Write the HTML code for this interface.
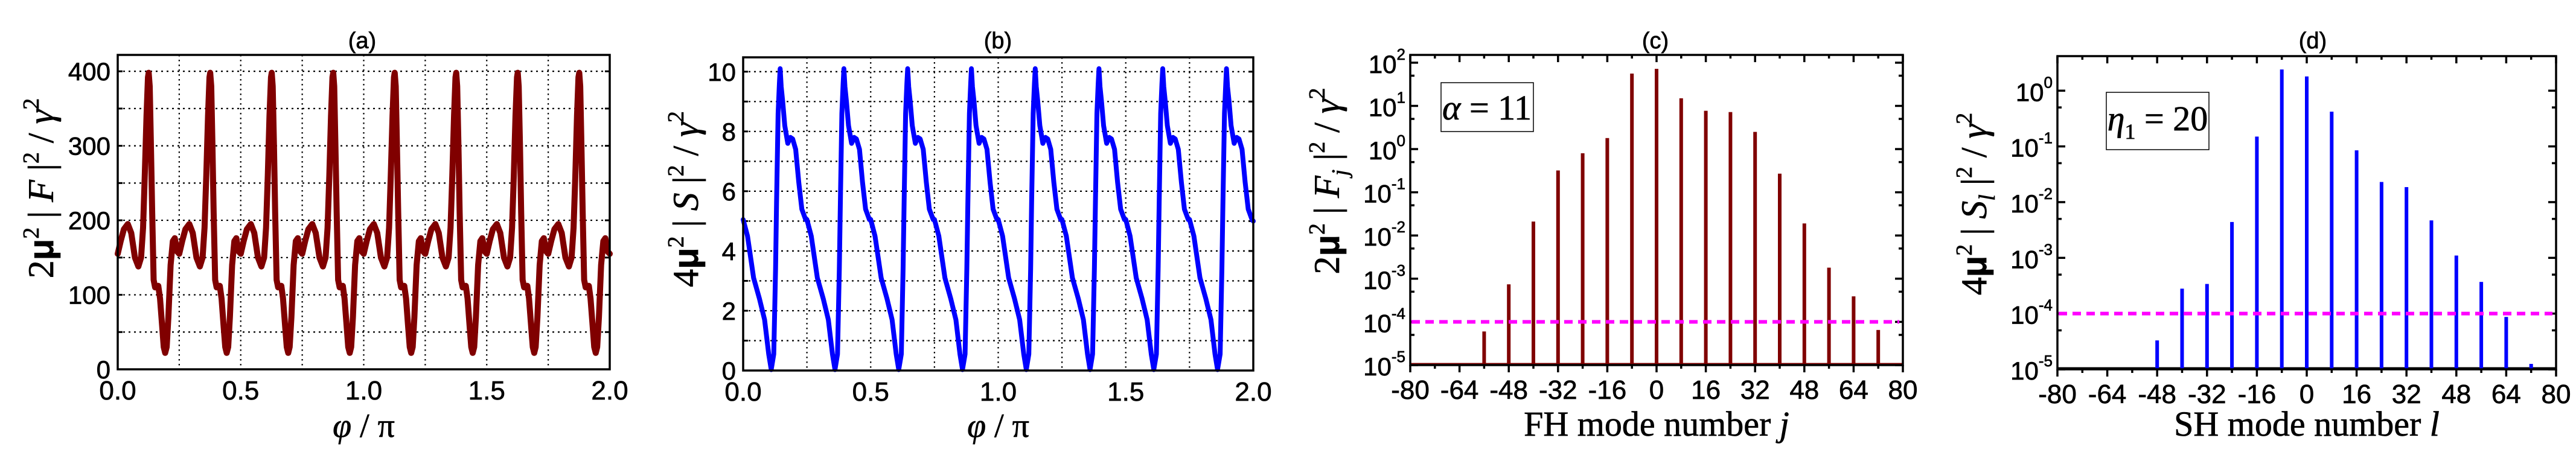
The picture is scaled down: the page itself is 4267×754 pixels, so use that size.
<!DOCTYPE html>
<html><head><meta charset="utf-8"><style>
html,body{margin:0;padding:0;background:#fff;}
svg{display:block;}
text{font-family:"Liberation Sans",Arial,sans-serif;stroke:#000;stroke-width:0.7;}
.serif{font-family:"Liberation Serif","Times New Roman",serif;}
</style></head><body>
<svg id="fig" xmlns="http://www.w3.org/2000/svg" width="4267" height="754" viewBox="0 0 4267 754">
<rect width="4267" height="754" fill="#fff"/>
<g id="pa"></g>
<g id="pb"></g>
<g id="pc"></g>
<g id="pd"></g>
</svg>
<script>
// ---- panel (a): one period (period = 0.25) of 2mu^2|F|^2/gamma^2 vs phi/pi
const periodA = 0.25;
const phiA = [0,0.012,0.025,0.041,0.055,0.07,0.084,0.095,0.103,0.11,0.117,0.123,0.126,0.13,0.135,0.14,0.146,0.152,0.165,0.172,0.18,0.187,0.193,0.199,0.206,0.215,0.224,0.232,0.242,0.25];
const valA = [155,172,188,195,183,150,138,150,190,260,340,392,398,380,300,210,120,110,112,95,60,30,22,30,70,140,172,176,158,155];
// ---- panel (b): one period of 4mu^2|S|^2/gamma^2
const periodB = 0.25;
const phiB = [0,0.017,0.041,0.064,0.084,0.1,0.11,0.12,0.127,0.131,0.137,0.142,0.145,0.149,0.155,0.163,0.175,0.185,0.194,0.206,0.218,0.23,0.245,0.25];
const valB = [5.05,4.5,3.1,2.4,1.7,0.55,0.03,0.55,3.4,5.6,8.6,9.6,10.1,9.5,9.0,8.2,7.6,7.8,7.75,7.4,6.3,5.4,5.05,5.0];
const xTicksAB = ["0.0","0.5","1.0","1.5","2.0"];
const yTicksA = ["0","100","200","300","400"];
const yTicksB = ["0","2","4","6","8","10"];
// ---- panel (c): FH mode spectrum
const modesC = [-56,-48,-40,-32,-24,-16,-8,0,8,16,24,32,40,48,56,64,72];
const valsC = [6e-5,7.4e-4,0.021,0.32,0.8,1.8,56,72,15,7.7,7.2,2.5,0.27,0.019,1.8e-3,3.9e-4,6.5e-5];
// ---- panel (d): SH mode spectrum
const modesD = [-48,-40,-32,-24,-16,-8,0,8,16,24,32,40,48,56,64,72];
const valsD = [3.3e-5,2.8e-4,3.4e-4,4.4e-3,0.15,2.4,1.8,0.42,0.085,0.023,0.0186,4.7e-3,1.1e-3,3.7e-4,8.7e-5,1.25e-5];
const modeTicks = ["-80","-64","-48","-32","-16","0","16","32","48","64","80"];
const expC = ["-5","-4","-3","-2","-1","0","1","2"];
const expD = ["-5","-4","-3","-2","-1","0"];
const thresholdC = 1e-4;
const thresholdD = 1e-4;

const NS="http://www.w3.org/2000/svg";
function mk(parent,tag,attrs,text){const e=document.createElementNS(NS,tag);for(const k in attrs)e.setAttribute(k,attrs[k]);if(text!==undefined)e.textContent=text;parent.appendChild(e);return e;}
function lin(d0,d1,r0,r1){return v=>r0+(v-d0)/(d1-d0)*(r1-r0);}
function logs(d0,d1,r0,r1){return v=>r0+(Math.log10(v)-d0)/(d1-d0)*(r1-r0);}

function frame(g,L,R,T,B){
  const f=mk(g,'rect',{x:L,y:T,width:R-L,height:B-T,fill:'none',stroke:'#000','stroke-width':3.5});
  
}

function linePanel(id,cfg){
  const g=document.getElementById(id);
  const {L,R,T,B,ymax,ystep,gridStep,ticks,yt,phi,val,period,color,title,titleX}=cfg;
  const X=lin(0,2,L,R), Y=lin(0,ymax,B,T);
  for(let x=0.25;x<2;x+=0.25){const l=mk(g,'line',{x1:X(x),x2:X(x),y1:T,y2:B,stroke:'#000','stroke-width':2.2,'stroke-dasharray':'2.5 5.5'});
    }
  for(let y=gridStep;y<ymax;y+=gridStep){const l=mk(g,'line',{x1:L,x2:R,y1:Y(y),y2:Y(y),stroke:'#000','stroke-width':2.2,'stroke-dasharray':'3 6'});
    
    mk(g,'line',{x1:L,x2:L+8,y1:Y(y),y2:Y(y),stroke:'#000','stroke-width':3});
    mk(g,'line',{x1:R-8,x2:R,y1:Y(y),y2:Y(y),stroke:'#000','stroke-width':3});}
  let pts=[];
  for(let k=0;k<8;k++){for(let i=0;i<phi.length-(k<7?1:0);i++){pts.push(X(k*period+phi[i]).toFixed(1)+','+Y(val[i]).toFixed(1));}}
  const c=mk(g,'polyline',{points:pts.join(' '),fill:'none',stroke:color,'stroke-width':cfg.sw,'stroke-linejoin':'round','stroke-linecap':'round'});
  
  frame(g,L,R,T,B);
  ticks.forEach((t,i)=>{const x=X(i*0.5);const e=mk(g,'text',{x:x,y:B+50,'font-size':44,'text-anchor':'middle'},t);
    });
  yt.forEach((t,i)=>{const e=mk(g,'text',{x:L-12,y:Y(i*ystep)+15,'font-size':42,'text-anchor':'end'},t);
    });
  const tt=mk(g,'text',{x:titleX,y:80,'font-size':38,'text-anchor':'middle','stroke-width':0.3},title);
  
  const xt=mk(g,'text',{x:(L+R)/2,y:724,'font-size':56,'text-anchor':'middle','class':'serif'});
  
  mk(xt,'tspan',{'font-style':'italic'},'φ');mk(xt,'tspan',{},' / π');
  return g;
}

function yTitle(g,x,y,lead,sym,sub){
  const t=mk(g,'text',{transform:`translate(${x},${y}) rotate(-90)`,'font-size':60,'text-anchor':'middle','class':'serif'});
  
  mk(t,'tspan',{},lead);
  mk(t,'tspan',{'font-family':'Liberation Sans','font-weight':'bold','font-size':58},'μ');
  mk(t,'tspan',{'font-size':38,dy:-24},'2');
  mk(t,'tspan',{dy:24},' | ');
  mk(t,'tspan',{'font-style':'italic'},sym);
  if(sub){mk(t,'tspan',{'font-style':'italic','font-size':38,dy:14},sub);mk(t,'tspan',{dy:-14},' ');}
  mk(t,'tspan',{},' |');
  mk(t,'tspan',{'font-size':38,dy:-24},'2');
  mk(t,'tspan',{dy:24},' / ');
  mk(t,'tspan',{'font-style':'italic'},'γ');
  mk(t,'tspan',{'font-size':38,dy:-24},'2');
}

const ga=linePanel('pa',{L:195,R:1010,T:91,B:612,ymax:422,ystep:100,gridStep:50,ticks:xTicksAB,yt:yTicksA,phi:phiA,val:valA,period:periodA,color:'#800000',sw:10,title:'(a)',titleX:600});
yTitle(ga,88,312,'2','F',null);
const gb=linePanel('pb',{L:1231,R:2076,T:95,B:614,ymax:10.48,ystep:2,gridStep:1,ticks:xTicksAB,yt:yTicksB,phi:phiB,val:valB,period:periodB,color:'#0000ff',sw:8,title:'(b)',titleX:1653});
yTitle(gb,1156,330,'4','S',null);

function barPanel(id,cfg){
  const g=document.getElementById(id);
  const {L,R,T,B,lmin,lmax,modes,vals,color,exps,thr,title,titleX,xlabel,xsym,baseColor}=cfg;
  const X=lin(-80,80,L,R), Y=logs(lmin,lmax,B,T);
  for(let e=lmin;e<=Math.floor(lmax);e++){
    [[0,13],[Math.log10(5),7]].forEach(([o,len])=>{const v=e+o;if(v>lmax)return;const y=Y(Math.pow(10,v));
      mk(g,'line',{x1:L,x2:L+len,y1:y,y2:y,stroke:'#000','stroke-width':3.5});
      mk(g,'line',{x1:R-len,x2:R,y1:y,y2:y,stroke:'#000','stroke-width':3.5});});
  }
  for(let m=-80;m<=80;m+=8){const len=(m%16===0)?12:6;const x=X(m);
    mk(g,'line',{x1:x,x2:x,y1:B,y2:B+len,stroke:'#000','stroke-width':3.5});
    mk(g,'line',{x1:x,x2:x,y1:T,y2:T+len,stroke:'#000','stroke-width':3.5});}
  const bl=mk(g,'line',{x1:L,x2:R,y1:B-2,y2:B-2,stroke:baseColor,'stroke-width':3});
  
  modes.forEach((m,i)=>{const y=Y(vals[i]);const r=mk(g,'rect',{x:X(m)-3,y:y,width:6,height:B-y,fill:color});
    });
  const th=mk(g,'line',{x1:L+2,x2:R-6,y1:Y(thr),y2:Y(thr),stroke:'#ff00ff','stroke-width':6,'stroke-dasharray':'14 9'});
  
  frame(g,L,R,T,B);
  modeTicks.forEach((t,i)=>{const e=mk(g,'text',{x:X(-80+16*i),y:B+56,'font-size':44,'text-anchor':'middle'},t);
    });
  exps.forEach((t,i)=>{const y=Y(Math.pow(10,lmin+i));
    const e=mk(g,'text',{x:L-8,y:y+17,'font-size':42,'text-anchor':'end'});
    
    mk(e,'tspan',{},'10');mk(e,'tspan',{'font-size':26,dy:-22},t);});
  const tt=mk(g,'text',{x:titleX,y:80,'font-size':38,'text-anchor':'middle','stroke-width':0.3},title);
  
  const xt=mk(g,'text',{x:(L+R)/2,y:722,'font-size':58,'text-anchor':'middle','class':'serif'});
  
  mk(xt,'tspan',{},xlabel);mk(xt,'tspan',{'font-style':'italic'},xsym);
  return g;
}

const gc=barPanel('pc',{L:2336,R:3152,T:91,B:605,lmin:-5,lmax:2.18,modes:modesC,vals:valsC,color:'#800000',exps:expC,thr:thresholdC,title:'(c)',titleX:2742,xlabel:'FH mode number ',xsym:'j',baseColor:'#800000'});
yTitle(gc,2218,300,'2','F','j');
const bc=mk(gc,'rect',{x:2387,y:137,width:153,height:81,fill:'#fff',stroke:'#000','stroke-width':1.5});

const tc=mk(gc,'text',{x:2463,y:198,'font-size':58,'text-anchor':'middle','class':'serif'});

mk(tc,'tspan',{'font-style':'italic'},'α');mk(tc,'tspan',{},' = 11');

const gd=barPanel('pd',{L:3408,R:4234,T:93,B:612,lmin:-5,lmax:0.62,modes:modesD,vals:valsD,color:'#0000ff',exps:expD,thr:thresholdD,title:'(d)',titleX:3831,xlabel:'SH mode number ',xsym:'l',baseColor:'#000'});
yTitle(gd,3290,338,'4','S','l');
const bd=mk(gd,'rect',{x:3489,y:153,width:170,height:95,fill:'#fff',stroke:'#000','stroke-width':1.5});

const td=mk(gd,'text',{x:3574,y:216,'font-size':58,'text-anchor':'middle','class':'serif'});

mk(td,'tspan',{'font-style':'italic'},'η');mk(td,'tspan',{'font-size':36,dy:14},'1');mk(td,'tspan',{dy:-14},' = 20');
</script>
</body></html>
